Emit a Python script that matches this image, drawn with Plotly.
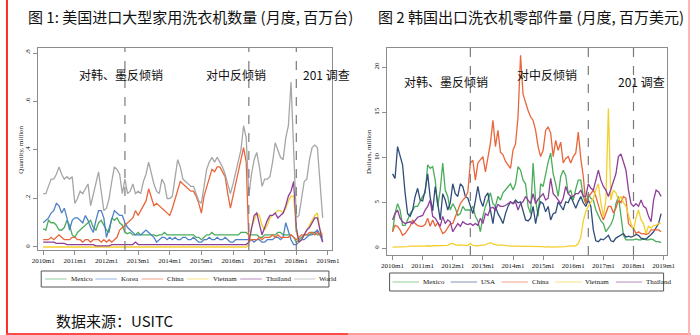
import plotly.graph_objects as go

W, H = 700, 335

# ---------------- data ----------------
months_left = [f"{y}m{m}" for y in range(2010, 2019) for m in range(1, 13)][:107]   # 2010m1-2018m11
months_right = [f"{y}m{m}" for y in range(2010, 2019) for m in range(1, 13)]        # 2010m1-2018m12

tick_years = list(range(2010, 2020))
tick_labels = [f"{y}m1" for y in tick_years]

# Figure 1: US imports of large residential washers, quantity (million units)
mexico_q = [0.075, 0.07, 0.11, 0.10, 0.10, 0.09, 0.07, 0.07, 0.08, 0.11, 0.09, 0.05,
            0.04, 0.06, 0.07, 0.08, 0.09, 0.10, 0.11, 0.08, 0.07, 0.10, 0.11, 0.09,
            0.07, 0.06, 0.12, 0.11, 0.12, 0.10, 0.09, 0.06, 0.055, 0.06, 0.05, 0.05,
            0.06, 0.05, 0.05, 0.05, 0.05, 0.05, 0.05, 0.045, 0.05, 0.05, 0.06, 0.05,
            0.05, 0.05, 0.05, 0.05, 0.05, 0.05, 0.05, 0.05, 0.05, 0.05, 0.04, 0.04,
            0.03, 0.04, 0.05, 0.05, 0.06, 0.05, 0.05, 0.05, 0.05, 0.05, 0.05, 0.05,
            0.05, 0.05, 0.05, 0.06, 0.06, 0.06, 0.05, 0.05, 0.05, 0.05, 0.04, 0.04,
            0.05, 0.05, 0.05, 0.05, 0.05, 0.06, 0.06, 0.05, 0.05, 0.05, 0.05, 0.04,
            0.02, 0.03, 0.04, 0.05, 0.05, 0.05, 0.06, 0.06, 0.05, 0.05, 0.04]
korea_q = [0.10, 0.11, 0.12, 0.14, 0.15, 0.18, 0.17, 0.14, 0.16, 0.12, 0.07, 0.11,
           0.12, 0.12, 0.11, 0.10, 0.13, 0.11, 0.08, 0.06, 0.11, 0.15, 0.15, 0.12,
           0.04, 0.08, 0.12, 0.15, 0.14, 0.13, 0.13, 0.10, 0.08, 0.07, 0.06, 0.05,
           0.05, 0.05, 0.06, 0.07, 0.06, 0.05, 0.04, 0.02, 0.03, 0.04, 0.04, 0.03,
           0.04, 0.03, 0.04, 0.03, 0.03, 0.04, 0.04, 0.03, 0.03, 0.04, 0.03, 0.02,
           0.02, 0.03, 0.03, 0.04, 0.03, 0.03, 0.04, 0.03, 0.03, 0.04, 0.03, 0.02,
           0.02, 0.03, 0.03, 0.03, 0.03, 0.03, 0.03, 0.03, 0.02, 0.03, 0.03, 0.02,
           0.02, 0.03, 0.03, 0.03, 0.04, 0.04, 0.03, 0.04, 0.10, 0.06, 0.03, 0.01,
           0.01, 0.02, 0.03, 0.03, 0.04, 0.05, 0.05, 0.06, 0.07, 0.05, 0.02]
china_q = [0.03, 0.03, 0.03, 0.04, 0.03, 0.04, 0.05, 0.04, 0.03, 0.03, 0.03, 0.04,
           0.04, 0.03, 0.03, 0.02, 0.03, 0.03, 0.02, 0.03, 0.03, 0.03, 0.02, 0.03,
           0.02, 0.03, 0.02, 0.03, 0.04, 0.07, 0.08, 0.09, 0.10, 0.11, 0.12, 0.15,
           0.13, 0.15, 0.17, 0.19, 0.24, 0.20, 0.17, 0.18, 0.17, 0.16, 0.15, 0.14,
           0.13, 0.16, 0.20, 0.24, 0.27, 0.26, 0.25, 0.24, 0.23, 0.23, 0.21, 0.18,
           0.14, 0.21, 0.25, 0.28, 0.32, 0.31, 0.33, 0.33, 0.31, 0.29, 0.22, 0.16,
           0.21, 0.26, 0.32, 0.37, 0.41, 0.35, 0.02, 0.03, 0.03, 0.03, 0.04, 0.03,
           0.04, 0.04, 0.04, 0.05, 0.04, 0.05, 0.04, 0.04, 0.04, 0.04, 0.05, 0.04,
           0.03, 0.04, 0.05, 0.05, 0.05, 0.06, 0.06, 0.05, 0.06, 0.05, 0.05]
vietnam_q = [0.0] * 78 + [0.01, 0.08, 0.11, 0.14, 0.13, 0.09,
                          0.07, 0.09, 0.12, 0.13, 0.14, 0.15, 0.15, 0.14, 0.16, 0.19, 0.21, 0.21,
                          0.06, 0.02, 0.03, 0.05, 0.07, 0.09, 0.11, 0.13, 0.14, 0.07, 0.05]
thailand_q = [0.02, 0.02, 0.02, 0.02, 0.02, 0.015, 0.015, 0.015, 0.015, 0.01, 0.01, 0.01,
              0.01, 0.01, 0.01, 0.01, 0.01, 0.01, 0.01, 0.01, 0.005, 0.005, 0.005, 0.005,
              0.005, 0.005, 0.01, 0.01, 0.01, 0.01, 0.01, 0.01, 0.01, 0.01, 0.01, 0.02,
              0.01, 0.01, 0.01, 0.01, 0.01, 0.01, 0.01, 0.01, 0.01, 0.01, 0.01, 0.01,
              0.01, 0.01, 0.01, 0.01, 0.01, 0.01, 0.01, 0.01, 0.01, 0.01, 0.01, 0.01,
              0.01, 0.01, 0.01, 0.01, 0.01, 0.01, 0.01, 0.01, 0.01, 0.01, 0.01, 0.01,
              0.01, 0.01, 0.01, 0.01, 0.01, 0.01, 0.02, 0.08, 0.13, 0.14, 0.10, 0.05,
              0.08, 0.11, 0.13, 0.13, 0.14, 0.12, 0.13, 0.14, 0.17, 0.21, 0.23, 0.27,
              0.08, 0.02, 0.03, 0.05, 0.07, 0.08, 0.10, 0.12, 0.12, 0.07, 0.02]
world_q = [0.22, 0.22, 0.25, 0.28, 0.28, 0.30, 0.33, 0.30, 0.28, 0.29, 0.28, 0.29,
           0.18, 0.20, 0.23, 0.22, 0.24, 0.26, 0.17, 0.22, 0.26, 0.31, 0.23, 0.15,
           0.16, 0.20, 0.27, 0.33, 0.32, 0.30, 0.22, 0.28, 0.22, 0.23, 0.26, 0.22,
           0.23, 0.22, 0.27, 0.30, 0.35, 0.30, 0.26, 0.23, 0.22, 0.28, 0.26, 0.20,
           0.20, 0.21, 0.28, 0.36, 0.33, 0.28, 0.27, 0.26, 0.25, 0.25, 0.22, 0.19,
           0.18, 0.26, 0.32, 0.35, 0.37, 0.35, 0.37, 0.35, 0.33, 0.30, 0.26, 0.22,
           0.26, 0.31, 0.36, 0.40, 0.50, 0.45, 0.21, 0.30, 0.36, 0.39, 0.33, 0.25,
           0.28, 0.28, 0.29, 0.35, 0.43, 0.40, 0.37, 0.36, 0.45, 0.50, 0.68, 0.40,
           0.12, 0.13, 0.20, 0.27, 0.28, 0.36, 0.41, 0.42, 0.41, 0.25, 0.12]

# Figure 2: Korean exports of washer parts (million USD)
mexico_d = [1.8, 3.8, 4.9, 4.2, 2.5, 2.5, 3.1, 3.8, 4.2, 4.6, 4.6, 5.2,
            5.7, 6.1, 9.2, 8.8, 9.0, 7.5, 4.6, 6.4, 9.4, 6.4, 5.7, 4.2,
            4.9, 4.4, 3.6, 3.8, 4.6, 4.2, 4.2, 4.2, 4.6, 3.5, 3.0, 1.8,
            3.5, 4.6, 5.3, 6.1, 4.9, 4.6, 5.7, 5.3, 6.1, 6.4, 6.8, 7.1,
            6.4, 7.1, 9.0, 8.6, 7.5, 7.1, 4.6, 3.8, 9.4, 5.3, 3.5, 7.1,
            6.8, 8.2, 9.5, 10.5, 8.2, 7.1, 5.7, 7.9, 8.6, 8.0, 6.0, 6.4,
            5.3, 6.5, 7.5, 7.5, 5.7, 4.9, 6.0, 5.5, 5.3, 4.2, 3.5, 3.0,
            2.7, 1.8, 2.2, 2.6, 3.3, 4.9, 5.7, 3.8, 1.4, 0.9, 0.9, 0.9,
            0.9, 1.0, 0.9, 0.9, 1.0, 0.9, 0.9, 1.0, 0.9, 0.7, 0.7, 0.6]
usa_d = [8.2, 7.7, 11.2, 10.1, 9.2, 6.1, 3.8, 3.5, 4.2, 5.7, 6.6, 5.3,
         5.2, 6.4, 8.2, 5.6, 4.1, 6.8, 4.9, 3.1, 6.0, 5.3, 4.2, 5.0,
         7.1, 6.0, 5.7, 7.1, 6.8, 5.7, 5.5, 4.6, 3.8, 5.2, 6.8, 5.3,
         4.6, 5.7, 6.1, 4.2, 2.7, 4.6, 3.8, 3.3, 2.7, 3.8, 4.6, 5.1,
         4.9, 5.3, 5.0, 5.1, 4.2, 3.1, 3.0, 3.3, 4.6, 2.7, 4.2, 5.1,
         4.9, 4.0, 4.6, 3.1, 3.8, 3.9, 5.1, 4.6, 4.2, 5.1, 5.0, 5.7,
         5.0, 4.4, 5.1, 5.7, 5.0, 4.6, 5.3, 4.6, 2.0, 0.8, 0.7, 1.0,
         0.9, 1.2, 1.4, 0.8, 0.7, 1.1, 1.3, 1.4, 1.6, 1.2, 1.3, 1.2,
         1.3, 1.5, 1.4, 1.1, 1.0, 1.0, 1.2, 1.5, 1.8, 2.2, 2.7, 3.8]
china_d = [1.8, 2.5, 2.4, 2.0, 1.4, 1.6, 2.0, 2.4, 3.1, 2.7, 2.5, 2.4,
           2.4, 2.6, 3.3, 2.4, 3.1, 2.4, 2.8, 2.1, 1.6, 1.8, 2.2, 2.7,
           2.7, 3.5, 4.2, 4.9, 5.3, 5.6, 6.2, 9.4, 9.7, 7.5, 9.4, 9.7,
           10.1, 8.4, 10.0, 11.6, 14.1, 11.2, 13.0, 10.6, 10.3, 9.6, 9.2, 8.8,
           10.8, 11.5, 14.5, 21.3, 17.0, 16.0, 15.2, 14.5, 14.1, 13.0, 11.2, 10.1,
           10.8, 13.0, 13.4, 12.7, 10.1, 11.9, 10.8, 11.7, 9.4, 9.9, 10.1, 9.4,
           10.1, 10.5, 12.8, 9.9, 7.9, 4.9, 5.7, 6.0, 6.4, 5.7, 4.6, 3.8,
           3.1, 3.8, 4.6, 4.6, 3.9, 4.4, 5.3, 5.0, 5.7, 5.5, 2.7, 2.4,
           2.2, 1.6, 1.8, 1.6, 1.6, 1.5, 1.6, 2.0, 2.0, 2.0, 2.0, 1.8]
vietnam_d = [0.1, 0.1, 0.15, 0.15, 0.1, 0.15, 0.15, 0.2, 0.2, 0.15, 0.2, 0.2,
             0.2, 0.2, 0.25, 0.2, 0.25, 0.25, 0.3, 0.3, 0.25, 0.3, 0.3, 0.45,
             0.5, 0.35, 0.3, 0.35, 0.3, 0.3, 0.3, 0.5, 0.3, 0.25, 0.25, 0.3,
             0.3, 0.35, 0.5, 0.6, 0.45, 0.35, 0.3, 0.35, 0.3, 0.25, 0.2, 0.2,
             0.2, 0.2, 0.2, 0.15, 0.15, 0.2, 0.15, 0.15, 0.15, 0.2, 0.15, 0.15,
             0.15, 0.1, 0.15, 0.1, 0.1, 0.15, 0.1, 0.15, 0.15, 0.15, 0.2, 0.2,
             0.2, 0.25, 0.5, 1.2, 3.0, 4.0, 4.6, 5.0, 5.5, 6.4, 7.1, 5.0,
             3.5, 5.3, 15.4, 5.3, 6.4, 6.1, 5.3, 5.7, 5.0, 4.6, 3.5, 2.7,
             2.0, 3.3, 4.2, 3.1, 2.7, 1.6, 2.4, 2.2, 2.5, 2.5, 2.7, 2.7]
thailand_d = [3.1, 3.8, 4.2, 3.3, 2.9, 2.7, 2.8, 2.9, 2.7, 3.1, 3.4, 3.5,
              3.6, 4.2, 4.6, 5.3, 3.5, 3.3, 2.9, 2.4, 3.5, 2.7, 3.1, 2.9,
              1.8, 2.2, 2.7, 2.4, 2.9, 2.7, 2.6, 2.7, 2.5, 2.7, 2.5, 3.3,
              2.7, 3.8, 3.6, 4.4, 4.5, 4.2, 4.8, 4.6, 4.6, 4.7, 4.9, 5.1,
              4.9, 5.1, 4.2, 4.9, 5.1, 5.7, 5.3, 4.9, 6.0, 4.9, 5.4, 5.7,
              6.0, 5.3, 5.5, 7.7, 6.0, 5.7, 5.3, 4.9, 5.5, 6.8, 6.0, 5.7,
              5.7, 6.0, 6.0, 6.4, 5.7, 5.7, 7.1, 6.6, 6.4, 7.5, 8.6, 7.5,
              6.8, 6.4, 5.7, 6.5, 7.3, 8.2, 10.1, 10.4, 9.5, 8.6, 6.4, 4.9,
              4.6, 4.9, 4.6, 5.3, 4.6, 4.4, 3.5, 2.9, 5.3, 6.4, 6.2, 5.7]

# trade-remedy events (month labels)
events = ["2012m8", "2016m7", "2018m1"]
event_labels = ["对韩、墨反倾销", "对中反倾销", "201 调查"]

series_left = [("Mexico", mexico_q, "#4aad5b"), ("Korea", korea_q, "#4f80c6"),
               ("China", china_q, "#e9653b"), ("Vietnam", vietnam_q, "#f3cf2c"),
               ("Thailand", thailand_q, "#8d3f98"), ("World", world_q, "#a6a6a6")]
series_right = [("Mexico", mexico_d, "#4aad5b"), ("USA", usa_d, "#2f4d78"),
                ("China", china_d, "#e9653b"), ("Vietnam", vietnam_d, "#f3cf2c"),
                ("Thailand", thailand_d, "#8d3f98")]


def tnum(label):
    y, m = label.split("m")
    return int(y) + (int(m) - 1) / 12


def px(p):
    return p / W


def py(p):
    return 1 - p / H


SERIF = "Liberation Serif"
CJK = "Noto Sans CJK SC"

fig = go.Figure()

for name, vals, col in series_left:
    fig.add_trace(go.Scatter(x=[tnum(m) for m in months_left[:len(vals)]], y=vals, mode="lines",
                             name=name, line=dict(color=col, width=1.3), xaxis="x", yaxis="y",
                             showlegend=False))
for name, vals, col in series_right:
    fig.add_trace(go.Scatter(x=[tnum(m) for m in months_right[:len(vals)]], y=vals, mode="lines",
                             name=name, line=dict(color=col, width=1.3), xaxis="x2", yaxis="y2",
                             showlegend=False))

axis_common = dict(showline=True, linecolor="#8c8c8c", linewidth=1, mirror=True,
                   ticks="outside", ticklen=4, tickcolor="#8c8c8c", showgrid=False,
                   zeroline=False, tickfont=dict(family=SERIF, size=7, color="#111"))

fig.update_layout(
    width=W, height=H, margin=dict(l=0, r=0, t=0, b=0),
    paper_bgcolor="white", plot_bgcolor="white", showlegend=False,
    xaxis=dict(domain=[px(33), px(333)], range=[2009.845, 2019.124],
               tickvals=tick_years, ticktext=tick_labels, anchor="y", **axis_common),
    yaxis=dict(domain=[py(250), py(48)], range=[-0.0124, 0.8206],
               tickvals=[0, 0.2, 0.4, 0.6, 0.8], ticktext=["0", ".2", ".4", ".6", ".8"],
               tickangle=-90, anchor="x", **axis_common),
    xaxis2=dict(domain=[px(389), px(675)], range=[2009.805, 2019.097],
                tickvals=tick_years, ticktext=tick_labels, anchor="y2", **axis_common),
    yaxis2=dict(domain=[py(255), py(48)], range=[-0.77, 22.1],
                tickvals=[0, 5, 10, 15, 20], ticktext=["0", "5", "10", "15", "20"],
                tickangle=-90, anchor="x2", **axis_common),
)

shapes = []
annotations = []


def note(text, x, y, size, family, xanchor="center", yanchor="middle", angle=0):
    annotations.append(dict(text=text, x=px(x), y=py(y), xref="paper", yref="paper",
                            xanchor=xanchor, yanchor=yanchor, textangle=angle, showarrow=False,
                            borderpad=0, font=dict(family=family, size=size, color="#111")))


# event lines
for ev in events:
    for xr, yr in (("x", "y domain"), ("x2", "y2 domain")):
        shapes.append(dict(type="line", xref=xr, yref=yr, x0=tnum(ev), x1=tnum(ev), y0=0, y1=1,
                           line=dict(color="#7a7a7a", width=1.2, dash="dash")))

# event labels
left_lab_pos = [(118, 74), (235, 74), (328, 74)]
right_lab_pos = [(450, 82), (553, 74), (649, 82)]
for txt, (x, y) in zip(event_labels, left_lab_pos):
    note(txt, x, y, 12, CJK)
for txt, (x, y) in zip(event_labels, right_lab_pos):
    note(txt, x, y, 12, CJK)

# titles and source
note("图 1: 美国进口大型家用洗衣机数量 (月度, 百万台)", 21, 17, 15, CJK, xanchor="left")
note("图 2 韩国出口洗衣机零部件量 (月度, 百万美元)", 379, 17, 15, CJK, xanchor="left")
note("数据来源：USITC", 50, 320, 15, CJK, xanchor="left")

# axis titles
note("Quantity, million", 15, 150, 7, SERIF, angle=-90)
note("Dollars, million", 371, 152, 7, SERIF, angle=-90)

# legends (Stata-style boxes)
TW = {'a': 444, 'b': 500, 'c': 444, 'd': 500, 'e': 444, 'h': 500, 'i': 278, 'l': 278, 'm': 778,
      'n': 500, 'o': 500, 'r': 333, 's': 389, 't': 278, 'x': 500, 'y': 500, 'u': 500,
      'M': 889, 'K': 722, 'C': 667, 'V': 722, 'T': 611, 'W': 944, 'U': 722, 'S': 556, 'A': 722}


def text_w(s, size=7):
    return sum(TW.get(c, 500) for c in s) * size / 1000


def add_legend(series, box, start, line_len, gap_txt, gap_item):
    x0, y0, x1, y1 = box
    shapes.append(dict(type="rect", xref="paper", yref="paper", x0=px(x0), x1=px(x1),
                       y0=py(y1), y1=py(y0), line=dict(color="#555", width=1), fillcolor="white"))
    yc = (y0 + y1) / 2
    x = start
    for name, _, col in series:
        shapes.append(dict(type="line", xref="paper", yref="paper", x0=px(x), x1=px(x + line_len),
                           y0=py(yc), y1=py(yc), line=dict(color=col, width=1), opacity=0.6))
        tx = x + line_len + gap_txt
        if tx < x1 - 3:
            note(name, tx, yc, 7, SERIF, xanchor="left")
        x = tx + text_w(name) + gap_item


add_legend(series_left, (36, 271, 330, 287), 40, 22, 3, 5)
add_legend(series_right, (392, 273, 672, 291), 395, 27, 3, 8)

# page frame
shapes.append(dict(type="line", xref="paper", yref="paper", x0=px(1), x1=px(1), y0=0, y1=1,
                   line=dict(color="#ff2a2a", width=2)))
shapes.append(dict(type="line", xref="paper", yref="paper", x0=0, x1=px(350), y0=py(334), y1=py(334),
                   line=dict(color="#ff4a4a", width=2)))
shapes.append(dict(type="line", xref="paper", yref="paper", x0=px(350), x1=1, y0=py(334), y1=py(334),
                   line=dict(color="#ff9a9a", width=2)))
shapes.append(dict(type="line", xref="paper", yref="paper", x0=px(698), x1=px(698), y0=0, y1=1,
                   line=dict(color="#ffb4b4", width=2)))

fig.update_layout(shapes=shapes, annotations=annotations)
fig.write_html("out.html")
